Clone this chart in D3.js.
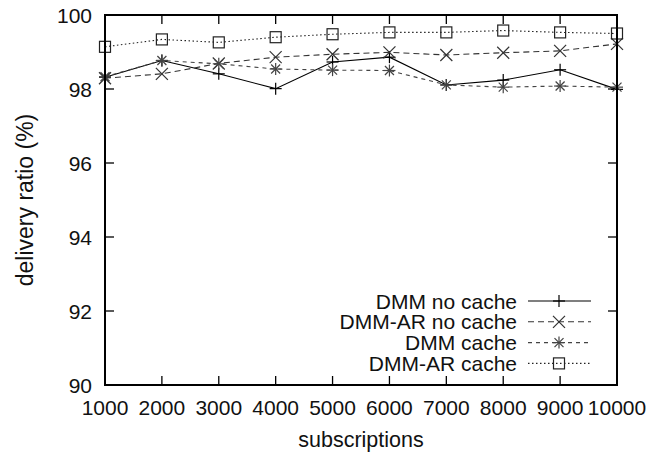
<!DOCTYPE html>
<html>
<head>
  <meta charset="utf-8">
  <title>delivery ratio</title>
  <script src="https://d3js.org/d3.v7.min.js"></script>
  <style>
    body { margin: 0; background: #fff; }
    text { font-family: "Liberation Sans", Arial, sans-serif; fill: #111; }
  </style>
</head>
<body>
  <div id="chart"></div>
  <script>
    // data
    const subscriptions = [1000, 2000, 3000, 4000, 5000, 6000, 7000, 8000, 9000, 10000];
    const dmmNoCache   = [98.32, 98.77, 98.41, 98.01, 98.73, 98.86, 98.11, 98.24, 98.52, 97.99];
    const dmmArNoCache = [98.29, 98.41, 98.69, 98.86, 98.94, 98.99, 98.92, 98.98, 99.03, 99.22];
    const dmmCache     = [98.33, 98.77, 98.68, 98.54, 98.51, 98.50, 98.11, 98.05, 98.08, 98.05];
    const dmmArCache   = [99.14, 99.34, 99.26, 99.40, 99.48, 99.53, 99.53, 99.58, 99.53, 99.50];
    const yTicks = [90, 92, 94, 96, 98, 100];

    const series = [
      { name: "DMM no cache",    values: dmmNoCache,   dash: null,      color: "#000", mark: "plus" },
      { name: "DMM-AR no cache", values: dmmArNoCache, dash: "6,4",     color: "#333", mark: "cross" },
      { name: "DMM cache",       values: dmmCache,     dash: "4,4",     color: "#444", mark: "star" },
      { name: "DMM-AR cache",    values: dmmArCache,   dash: "1.5,2.5", color: "#222", mark: "box" }
    ];

    const width = 650, height = 455;
    const m = { left: 105, right: 33, top: 15, bottom: 70 };
    const fs = "21px";

    const svg = d3.select("#chart").append("svg")
      .attr("width", width).attr("height", height);

    const x = d3.scaleLinear().domain([1000, 10000]).range([m.left, width - m.right]);
    const y = d3.scaleLinear().domain([90, 100]).range([height - m.bottom, m.top]);

    // ticks (mirrored, pointing inward)
    const tk = 9;
    const g = svg.append("g").attr("stroke", "#000").attr("stroke-width", 1.3);
    subscriptions.forEach(v => {
      g.append("line").attr("x1", x(v)).attr("x2", x(v)).attr("y1", y(90)).attr("y2", y(90) - tk);
      g.append("line").attr("x1", x(v)).attr("x2", x(v)).attr("y1", y(100)).attr("y2", y(100) + tk);
    });
    yTicks.forEach(v => {
      g.append("line").attr("x1", x(1000)).attr("x2", x(1000) + tk).attr("y1", y(v)).attr("y2", y(v));
      g.append("line").attr("x1", x(10000)).attr("x2", x(10000) - tk).attr("y1", y(v)).attr("y2", y(v));
    });

    // tick labels
    svg.selectAll(".xl").data(subscriptions).enter().append("text")
      .attr("x", d => x(d)).attr("y", y(90) + 30)
      .attr("text-anchor", "middle").style("font-size", fs)
      .text(d => d);
    svg.selectAll(".yl").data(yTicks).enter().append("text")
      .attr("x", x(1000) - 13).attr("y", d => y(d)).attr("dy", "0.36em")
      .attr("text-anchor", "end").style("font-size", fs)
      .text(d => d);

    // axis titles
    svg.append("text").attr("x", (x(1000) + x(10000)) / 2).attr("y", 447)
      .attr("text-anchor", "middle").style("font-size", "21.5px").text("subscriptions");
    svg.append("text").attr("transform", "translate(33,200) rotate(-90)")
      .attr("text-anchor", "middle").style("font-size", "23px").text("delivery ratio (%)");

    function drawMark(sel, type, cx, cy, color) {
      const s = 6;
      const p = sel.append("g").attr("transform", "translate(" + cx + "," + cy + ")")
        .attr("stroke", color).attr("stroke-width", 1.2).attr("fill", "none");
      if (type === "plus" || type === "star") {
        p.append("line").attr("x1", -s).attr("x2", s).attr("y1", 0).attr("y2", 0);
        p.append("line").attr("x1", 0).attr("x2", 0).attr("y1", -s).attr("y2", s);
      }
      if (type === "cross" || type === "star") {
        const c = type === "star" ? s * 0.75 : s;
        p.append("line").attr("x1", -c).attr("x2", c).attr("y1", -c).attr("y2", c);
        p.append("line").attr("x1", -c).attr("x2", c).attr("y1", c).attr("y2", -c);
      }
      if (type === "box") {
        p.append("rect").attr("x", -5.5).attr("y", -5.5).attr("width", 11).attr("height", 11);
      }
    }

    const line = d3.line().x((d, i) => x(subscriptions[i])).y(d => y(d));

    series.forEach(s => {
      svg.append("path").datum(s.values)
        .attr("d", line).attr("fill", "none")
        .attr("stroke", s.color).attr("stroke-width", 1.1)
        .attr("stroke-dasharray", s.dash);
      s.values.forEach((v, i) => drawMark(svg, s.mark, x(subscriptions[i]), y(v), s.color));
    });

    // legend
    series.forEach((s, i) => {
      const ly = 301 + i * 20.8;
      svg.append("text").attr("x", 517).attr("y", ly).attr("dy", "0.36em")
        .attr("text-anchor", "end").style("font-size", fs).text(s.name);
      svg.append("line").attr("x1", 528).attr("x2", 591).attr("y1", ly).attr("y2", ly)
        .attr("stroke", s.color).attr("stroke-width", 1.1).attr("stroke-dasharray", s.dash);
      drawMark(svg, s.mark, 559, ly, s.color);
    });

    // frame
    svg.append("rect").attr("x", x(1000)).attr("y", y(100))
      .attr("width", x(10000) - x(1000)).attr("height", y(90) - y(100))
      .attr("fill", "none").attr("stroke", "#000").attr("stroke-width", 2);
  </script>
</body>
</html>
